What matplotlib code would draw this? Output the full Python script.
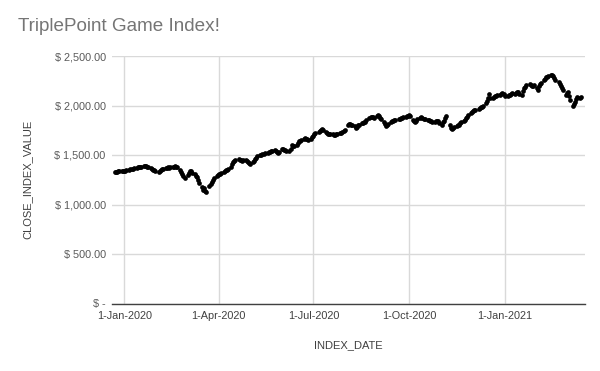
import matplotlib
matplotlib.use("Agg")
import matplotlib.pyplot as plt
import matplotlib.dates as mdates
import matplotlib.ticker as mticker
import pandas as pd
import numpy as np

# ---- data (weekly rows, Mon..Fri), starting Monday 23-Dec-2019 ----
start_date = "2019-12-23"
close_index_value = [
    1330, 1332, 1329, 1334, 1336,
    1335, 1340, 1342, 1338, 1345,
    1350, 1356, 1362, 1359, 1365,
    1372, 1378, 1380, 1376, 1383,
    1386, 1390, 1384, 1380, 1377,
    1368, 1360, 1352, 1345, 1335,
    1330, 1338, 1346, 1355, 1362,
    1368, 1372, 1376, 1370, 1378,
    1383, 1380, 1385, 1378, 1374,
    1345, 1325, 1305, 1285, 1266,
    1300, 1322, 1340, 1335, 1320,
    1305, 1290, 1275, 1245, 1215,
    1175, 1150, 1168, 1140, 1130,
    1185, 1205, 1230, 1250, 1268,
    1290, 1300, 1308, 1312, 1318,
    1330, 1340, 1345, 1352, 1360,
    1380, 1405, 1430, 1440, 1452,
    1458, 1445, 1450, 1440, 1446,
    1452, 1440, 1430, 1420, 1410,
    1425, 1440, 1458, 1470, 1485,
    1498, 1505, 1508, 1512, 1518,
    1520, 1528, 1530, 1536, 1540,
    1550, 1545, 1535, 1522, 1528,
    1565, 1560, 1555, 1548, 1545,
    1540, 1565, 1598, 1592, 1586,
    1605, 1625, 1638, 1645, 1655,
    1660, 1668, 1665, 1658, 1652,
    1665, 1682, 1695, 1708, 1718,
    1735, 1745, 1752, 1758, 1755,
    1730, 1722, 1715, 1712, 1716,
    1712, 1705, 1702, 1710, 1716,
    1720, 1724, 1735, 1745, 1755,
    1805, 1818, 1810, 1802, 1800,
    1790, 1770, 1785, 1800, 1808,
    1820, 1828, 1832, 1838, 1850,
    1872, 1880, 1886, 1884, 1878,
    1890, 1902, 1895, 1875, 1862,
    1835, 1812, 1788, 1800, 1818,
    1830, 1840, 1846, 1852, 1858,
    1862, 1868, 1872, 1876, 1880,
    1886, 1892, 1898, 1903, 1890,
    1855, 1840, 1836, 1845, 1860,
    1872, 1880, 1875, 1866, 1860,
    1855, 1850, 1848, 1842, 1838,
    1836, 1840, 1845, 1848, 1825,
    1808, 1830, 1845, 1870, 1892,
    1805, 1770, 1760, 1772, 1782,
    1790, 1798, 1808, 1820, 1832,
    1845, 1855, 1870, 1888, 1902,
    1925, 1935, 1942, 1950, 1956,
    1965, 1972, 1980, 1986, 1995,
    2030, 2050, 2075, 2120, 2080,
    2078, 2085, 2092, 2098, 2104,
    2110, 2118, 2122, 2112, 2095,
    2098, 2105, 2110, 2116, 2124,
    2120, 2126, 2132, 2138, 2118,
    2110, 2150, 2175, 2190, 2205,
    2222, 2210, 2192, 2200, 2205,
    2180, 2158, 2195, 2218, 2230,
    2255, 2270, 2285, 2292, 2300,
    2312, 2305, 2295, 2278, 2262,
    2238, 2215, 2195, 2175, 2158,
    2108, 2125, 2138, 2095, 2058,
    1990, 2012, 2040, 2065, 2088,
    2075, 2082,
]
index_date = pd.bdate_range(start=start_date, periods=len(close_index_value))

title = "TriplePoint Game Index!"
x_label = "INDEX_DATE"
y_label = "CLOSE_INDEX_VALUE"
y_ticks = [0, 500, 1000, 1500, 2000, 2500]
x_tick_dates = ["2020-01-01", "2020-04-01", "2020-07-01", "2020-10-01", "2021-01-01"]

# ---- figure ----
plt.rcParams['font.family'] = ['Liberation Sans', 'DejaVu Sans']
fig = plt.figure(figsize=(6.0, 3.71), dpi=100)
W, H = 600, 371
ax_l, ax_r, ax_t, ax_b = 112, 585, 56, 303.5
ax = fig.add_axes([ax_l / W, 1 - ax_b / H, (ax_r - ax_l) / W, (ax_b - ax_t) / H])

ax.plot(index_date, close_index_value, linestyle="none", marker="o",
        markersize=3.4, color="black", markeredgewidth=0, zorder=3)

jan1 = pd.Timestamp("2020-01-01")
ax.set_xlim(jan1 - pd.Timedelta(days=11.8), jan1 + pd.Timedelta(days=443.4))
ax.set_ylim(0, 2500)

ax.set_xticks([pd.Timestamp(d) for d in x_tick_dates])
ax.xaxis.set_major_formatter(mticker.FuncFormatter(
    lambda v, p: (lambda d: f"{d.day}-{d.strftime('%b-%Y')}")(mdates.num2date(v))))
ax.set_yticks(y_ticks)
ax.yaxis.set_major_formatter(mticker.FuncFormatter(
    lambda v, p: "$ -" if v == 0 else f"$ {v:,.2f}"))

grid_c = "#D9D9D9"
text_c = "#595959"
ax.grid(True, color=grid_c, linewidth=1.0)
ax.set_axisbelow(True)
for s in ("left", "right", "top"):
    ax.spines[s].set_visible(False)
ax.spines["bottom"].set_color("#404040")
ax.spines["bottom"].set_linewidth(1.0)
ax.tick_params(axis="y", length=0, pad=4.5, labelsize=7.8, labelcolor=text_c)
ax.tick_params(axis="x", length=0, pad=5.5, labelsize=7.8, labelcolor="#404040")

ax.set_xlabel(x_label, fontsize=8, color="#404040", labelpad=14)
ax.set_ylabel(y_label, fontsize=8, color="#404040", labelpad=16)

fig.text(18 / W, 1 - 31 / H, title, fontsize=13.6, color="#757575",
         ha="left", va="baseline")

fig.savefig("out.png", dpi=100, facecolor="white")
